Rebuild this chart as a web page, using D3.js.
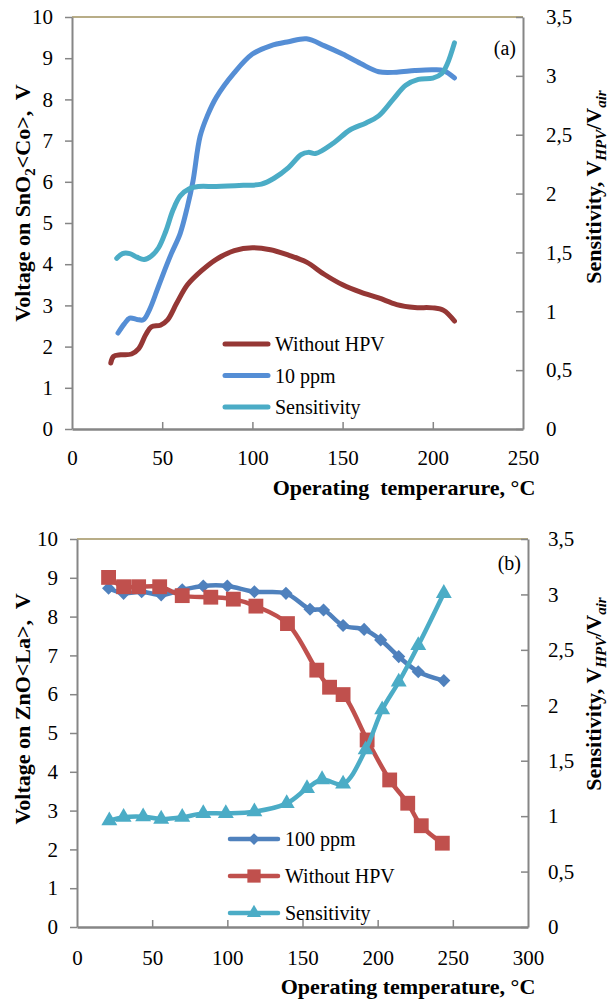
<!DOCTYPE html>
<html>
<head>
<meta charset="utf-8">
<title>Voltage and sensitivity vs operating temperature</title>
<style>
 body { margin: 0; background: #fff; }
 svg text { font-family: "Liberation Serif", "Times New Roman", serif; fill: #000; }
 .tick text { font-size: 21px; }
 .title { font-size: 22px; font-weight: bold; white-space: pre; }
 .legend text { font-size: 20px; }
 .panel-tag { font-size: 20px; }
</style>
</head>
<body>
<svg width="608" height="1000"></svg>
<script src="https://cdn.jsdelivr.net/npm/d3@7/dist/d3.min.js"></script>
<script>
// ---- panel (a): SnO2<Co>, smoothed curves, [temperature, value]
var snWithout = [[21.5,1.6],[23,1.76],[27,1.8],[33,1.82],[37,1.95],[41,2.3],[44,2.48],[49,2.52],[53,2.65],
  [58,3.05],[64,3.5],[72,3.85],[80,4.12],[90,4.33],[100,4.4],[110,4.35],[120,4.22],[130,4.05],[140,3.75],
  [150,3.5],[160,3.32],[170,3.18],[180,3.02],[190,2.95],[200,2.94],[206,2.88],[212,2.62]];
var sn10ppm = [[25.5,2.33],[29,2.55],[32,2.69],[36,2.66],[39.5,2.65],[43,2.9],[47,3.35],[50,3.7],[55,4.25],
  [60,4.75],[64,5.4],[67,6.0],[71,7.1],[75,7.6],[80,8.05],[90,8.65],[100,9.1],[110,9.3],[120,9.4],[130,9.47],
  [140,9.3],[150,9.1],[160,8.87],[170,8.67],[180,8.66],[190,8.7],[200,8.72],[206,8.7],[212,8.52]];
var snSens = [[24.8,1.45],[28,1.49],[32,1.49],[36,1.46],[40,1.44],[44,1.47],[48,1.54],[52,1.68],[56,1.86],
  [60,1.98],[65,2.04],[70,2.06],[80,2.06],[95,2.07],[105,2.08],[112,2.13],[120,2.22],[127,2.33],[131,2.35],
  [135,2.34],[145,2.43],[154,2.54],[163,2.6],[170,2.66],[178,2.8],[185,2.92],[192,2.97],[200,2.98],
  [205,3.02],[208,3.1],[212,3.28]];

// ---- panel (b): ZnO<La>, markers
var zn100ppm = [[21,8.73],[31,8.6],[43,8.64],[56,8.56],[70,8.69],[84,8.79],[100,8.79],[118,8.64],[139,8.6],
  [155,8.19],[164,8.17],[177,7.77],[191,7.67],[202,7.4],[214,6.97],[227,6.58],[244,6.35]];
var znWithout = [[21,9.01],[31,8.77],[41,8.77],[55,8.77],[70,8.54],[89,8.5],[104,8.45],[119,8.27],[140,7.82],
  [159.5,6.62],[168,6.18],[177,5.99],[193,4.82],[208,3.79],[220,3.19],[229,2.61],[243,2.16]];
var znSens = [[21.5,0.96],[31,0.99],[44,0.995],[56,0.974],[70,0.99],[84,1.025],[99,1.025],[118,1.04],
  [139.5,1.115],[153,1.25],[163,1.33],[177,1.29],[192,1.6],[203,1.96],[214,2.21],[227,2.54],[244,3.01]];

var leftTicks = [0,1,2,3,4,5,6,7,8,9,10];
var rightTicks = [0,0.5,1,1.5,2,2.5,3,3.5];
var xTicksA = [0,50,100,150,200,250];
var xTicksB = [0,50,100,150,200,250,300];

var svg = d3.select("svg");

function comma(d) { return String(d).replace(".", ","); }

function panel(o) {
  var g = svg.append("g");
  var x = d3.scaleLinear().domain([0, o.xMax]).range([o.left, o.right]);
  var y = d3.scaleLinear().domain([0, 10]).range([o.bottom, o.top]);
  var yR = d3.scaleLinear().domain([0, 3.5]).range([o.bottom, o.top]);

  // frame top line
  g.append("line").attr("x1", o.left).attr("x2", o.right).attr("y1", o.top).attr("y2", o.top)
    .attr("stroke", "#a0925f").attr("stroke-width", 1.5);

  var ax = g.append("g").attr("transform", "translate(" + o.left + ",0)")
    .call(d3.axisLeft(y).tickValues(leftTicks).tickSize(7).tickSizeOuter(0).tickPadding(o.padL));
  var axR = g.append("g").attr("transform", "translate(" + o.right + ",0)")
    .call(d3.axisRight(yR).tickValues(rightTicks).tickSize(-7).tickSizeOuter(0).tickPadding(o.padR).tickFormat(comma));
  var axB = g.append("g").attr("transform", "translate(0," + o.bottom + ")")
    .call(d3.axisBottom(x).tickValues(o.xTicks).tickSize(-7).tickSizeOuter(0).tickPadding(o.padB));
  axB.selectAll(".tick").filter(function(d) { return d === 0 || d === o.xMax; }).select("line").remove();
  [ax, axR, axB].forEach(function(a) {
    a.select(".domain").attr("stroke", "#868686").attr("stroke-width", 2);
    a.selectAll(".tick line").attr("stroke", "#868686").attr("stroke-width", 1.5);
    a.selectAll(".tick text").attr("fill", "#000");
  });
  axB.select(".domain").attr("stroke-width", 2.5);

  var line = d3.line().curve(d3.curveCatmullRom.alpha(0.5));

  o.series.forEach(function(s) {
    var sy = s.right ? yR : y;
    var pts = s.data.map(function(d) { return [x(d[0]), sy(d[1])]; });
    g.append("path").attr("d", line(pts)).attr("fill", "none")
      .attr("stroke", s.color).attr("stroke-width", o.lineW).attr("stroke-linecap", "round");
    if (s.marker) {
      g.append("g").selectAll("path").data(pts).enter().append("path")
        .attr("transform", function(p) { return "translate(" + p[0] + "," + p[1] + ")"; })
        .attr("d", d3.symbol().type(s.marker).size(s.msize))
        .attr("fill", s.color);
    }
  });

  // legend
  var lg = g.append("g").attr("class", "legend");
  o.series.forEach(function(s, i) {
    var ly = o.legY + i * o.legGap;
    lg.append("line").attr("x1", o.legX).attr("x2", o.legX + o.legW).attr("y1", ly).attr("y2", ly)
      .attr("stroke", s.color).attr("stroke-width", o.lineW).attr("stroke-linecap", "round");
    if (s.marker) {
      lg.append("path").attr("transform", "translate(" + (o.legX + o.legW / 2) + "," + ly + ")")
        .attr("d", d3.symbol().type(s.marker).size(s.msize * 0.8)).attr("fill", s.color);
    }
    lg.append("text").attr("x", o.legX + o.legW + 7).attr("y", ly + 7).text(s.name);
  });

  g.append("text").attr("class", "panel-tag").attr("text-anchor", "end")
    .attr("x", o.right - 7).attr("y", o.tagY).text(o.tag);

  // axis titles
  g.append("text").attr("class", "title").attr("text-anchor", "middle")
    .attr("x", o.xTitleX).attr("y", o.xTitleY).text(o.xTitle);

  var lt = g.append("text").attr("class", "title").attr("text-anchor", "middle")
    .attr("transform", "translate(30," + o.yTitleC + ") rotate(-90)");
  o.yTitle.forEach(function(p) {
    var t = lt.append("tspan").text(p[0]);
    if (p[1]) t.attr("font-size", "15px").attr("dy", 5);
    else if (p[2]) t.attr("dy", -5);
  });

  var rt = g.append("text").attr("class", "title").attr("text-anchor", "middle")
    .attr("transform", "translate(601," + o.rTitleC + ") rotate(-90)");
  rt.append("tspan").text("Sensitivity, V");
  rt.append("tspan").text("HPV").attr("font-size", "15px").attr("font-style", "italic").attr("dy", 5);
  rt.append("tspan").text("/V").attr("dy", -5);
  rt.append("tspan").text("air").attr("font-size", "15px").attr("font-style", "italic").attr("dy", 5);
}

panel({
  left: 72, right: 523, top: 17, bottom: 429, xMax: 250, xTicks: xTicksA,
  padL: 12, padR: 23, padB: 21, lineW: 5,
  series: [
    { name: "Without HPV", data: snWithout, color: "#953735" },
    { name: "10 ppm", data: sn10ppm, color: "#558ed5" },
    { name: "Sensitivity", data: snSens, color: "#4bacc6", right: true }
  ],
  legX: 225, legW: 43, legY: 344, legGap: 31.5,
  tag: "(a)", tagY: 55,
  xTitle: "Operating  temperarure, \u00b0C", xTitleX: 404, xTitleY: 495,
  yTitle: [["Voltage on SnO"], ["2", true], ["<Co>,  V", false, true]], yTitleC: 203,
  rTitleC: 187
});

panel({
  left: 77, right: 528, top: 539, bottom: 927, xMax: 300, xTicks: xTicksB,
  padL: 12, padR: 20, padB: 23, lineW: 4.5,
  series: [
    { name: "100 ppm", data: zn100ppm, color: "#4f81bd", marker: d3.symbolDiamond2, msize: 110 },
    { name: "Without HPV", data: znWithout, color: "#c0504d", marker: d3.symbolSquare, msize: 220 },
    { name: "Sensitivity", data: znSens, color: "#4bacc6", right: true, marker: d3.symbolTriangle, msize: 110 }
  ],
  legX: 230, legW: 48, legY: 839, legGap: 37,
  tag: "(b)", tagY: 570,
  xTitle: "Operating temperature, \u00b0C", xTitleX: 408, xTitleY: 994,
  yTitle: [["Voltage on ZnO<La>,  V"]], yTitleC: 709,
  rTitleC: 694
});
</script>
</body>
</html>
